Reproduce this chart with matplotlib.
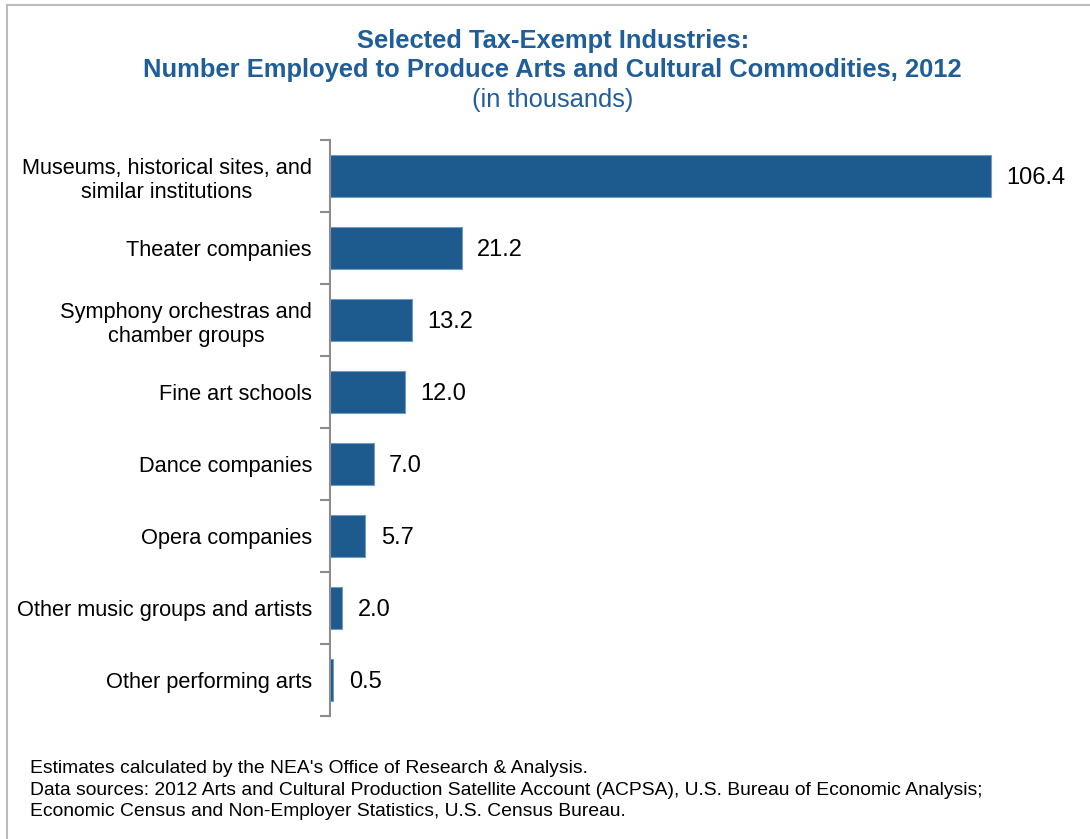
import numpy as np
import matplotlib.pyplot as plt
from matplotlib.lines import Line2D

plt.rcParams['font.family'] = ['Liberation Sans', 'DejaVu Sans']

industries = [
    "Museums, historical sites, and\nsimilar institutions",
    "Theater companies",
    "Symphony orchestras and\nchamber groups",
    "Fine art schools",
    "Dance companies",
    "Opera companies",
    "Other music groups and artists",
    "Other performing arts",
]
employed = [106.4, 21.2, 13.2, 12.0, 7.0, 5.7, 2.0, 0.5]

bar_color = "#1d5a8e"
title_color = "#1f5e99"

fig = plt.figure(figsize=(10.9, 8.39), dpi=100)
ax = fig.add_axes([0.3028, 0.1466, 0.6697, 0.6865])

y = np.arange(len(industries))
ax.barh(y, employed, height=0.58, color=bar_color, edgecolor="#6f9cc4", linewidth=0.8)

for yi, v in zip(y, employed):
    ax.text(v + 2.5, yi + 0.03, f"{v:.1f}", va="center", ha="left", fontsize=17)

ax.set_ylim(len(industries) - 0.5, -0.5)
ax.set_xlim(0, 117.5)

ax.set_yticks(y)
ax.set_yticklabels(industries, fontsize=15.7, ha="right", multialignment="center")
ax.tick_params(axis="y", which="major", length=0, pad=13)
ax.set_yticks(np.arange(-0.5, len(industries)), minor=True)
ax.tick_params(axis="y", which="minor", length=7, width=1.5, color="#8c8c8c")
ax.set_xticks([])

for side in ["top", "right", "bottom"]:
    ax.spines[side].set_visible(False)
ax.spines["left"].set_color("#8c8c8c")
ax.spines["left"].set_linewidth(1.5)

fig.text(0.507, 0.951, "Selected Tax-Exempt Industries:", ha="center", va="center",
         fontsize=18.4, fontweight="bold", color=title_color)
fig.text(0.507, 0.917, "Number Employed to Produce Arts and Cultural Commodities, 2012",
         ha="center", va="center", fontsize=18.4, fontweight="bold", color=title_color)
fig.text(0.507, 0.881, "(in thousands)", ha="center", va="center",
         fontsize=18.4, color=title_color)

fig.text(0.0275, 0.0584,
         "Estimates calculated by the NEA's Office of Research & Analysis.\n"
         "Data sources: 2012 Arts and Cultural Production Satellite Account (ACPSA), U.S. Bureau of Economic Analysis;\n"
         "Economic Census and Non-Employer Statistics, U.S. Census Bureau.",
         ha="left", va="center", fontsize=13.9, linespacing=1.38)

# thin frame along the top and left edges
fig.add_artist(Line2D([0.0065, 1.0], [0.994, 0.994], transform=fig.transFigure,
                      color="#bbbbbb", linewidth=1.5))
fig.add_artist(Line2D([0.0065, 0.0065], [0.0, 0.994], transform=fig.transFigure,
                      color="#bbbbbb", linewidth=1.5))

fig.savefig("out.png", dpi=100)
